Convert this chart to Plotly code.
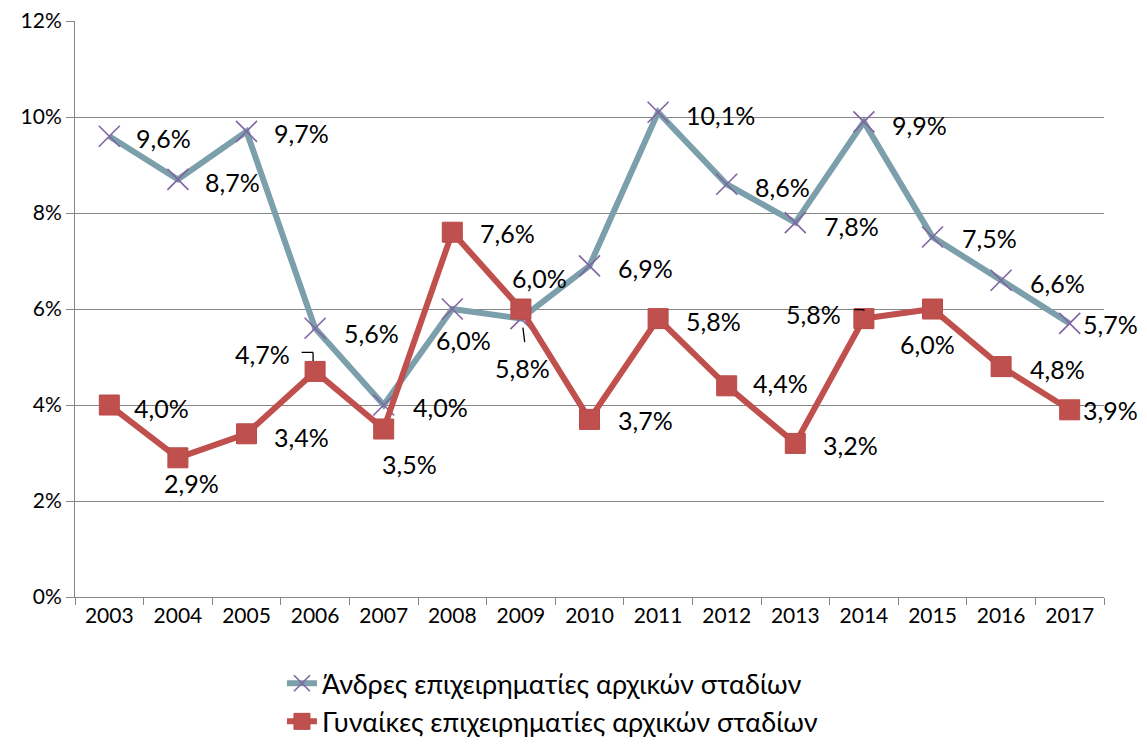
import plotly.graph_objects as go

years = ["2003", "2004", "2005", "2006", "2007", "2008", "2009", "2010",
         "2011", "2012", "2013", "2014", "2015", "2016", "2017"]
men = [9.6, 8.7, 9.7, 5.6, 4.0, 6.0, 5.8, 6.9, 10.1, 8.6, 7.8, 9.9, 7.5, 6.6, 5.7]
women = [4.0, 2.9, 3.4, 4.7, 3.5, 7.6, 6.0, 3.7, 5.8, 4.4, 3.2, 5.8, 6.0, 4.8, 3.9]
men_name = "Άνδρες επιχειρηματίες αρχικών σταδίων"
women_name = "Γυναίκες επιχειρηματίες αρχικών σταδίων"
y_ticks = [0, 2, 4, 6, 8, 10, 12]

# label placement styling: (xanchor, xshift px, yshift px)
men_lab = [("left", 25, -2), ("left", 25, -3), ("left", 25, -2), ("left", 27, -5),
           ("left", 27, -2), ("center", 11, -31), ("center", 2, -49), ("left", 26, -2),
           ("left", 26, -3), ("left", 26, -3), ("left", 27, -3), ("left", 26, -3),
           ("left", 27, -1), ("left", 27, -3), ("left", 11, -1)]
women_lab = [("left", 23, -3), ("center", 14, -25), ("left", 25, -3), ("right", -23, 17),
             ("center", 26, -35), ("left", 26, -1), ("center", 19, 31), ("left", 26, -1),
             ("left", 26, -2), ("left", 24, 3), ("left", 26, -2), ("right", -21, 5),
             ("center", -5, -35), ("left", 27, -2), ("left", 11, 0)]

FONT = "Lato, 'Noto Sans', sans-serif"
men_y = [v / 100 for v in men]
women_y = [v / 100 for v in women]

fig = go.Figure()
fig.add_trace(go.Scatter(
    x=years, y=men_y, name=men_name, mode="lines+markers",
    line=dict(color="#7B9FAB", width=6),
    marker=dict(symbol="x-thin-open", size=21, color="#8064A2",
                line=dict(color="#8064A2", width=1.6)),
    legendgroup="m",
))
fig.add_trace(go.Scatter(
    x=years, y=women_y, name=women_name, mode="lines+markers",
    line=dict(color="#C0504D", width=6),
    marker=dict(symbol="square", size=20, color="#C0504D",
                line=dict(color="#B84A47", width=1)),
    legendgroup="w",
))

def fmt(v):
    return f"{v:.1f}".replace(".", ",") + "%"

# annotations on a category axis are positioned by category index
for i, (v, (xa, dx, dy)) in enumerate(zip(men, men_lab)):
    fig.add_annotation(x=i, y=v / 100, text=fmt(v), showarrow=False, xanchor=xa,
                       yanchor="middle", xshift=dx, yshift=dy,
                       font=dict(family=FONT, size=25, color="black"))
for i, (v, (xa, dx, dy)) in enumerate(zip(women, women_lab)):
    fig.add_annotation(x=i, y=v / 100, text=fmt(v), showarrow=False, xanchor=xa,
                       yanchor="middle", xshift=dx, yshift=dy,
                       font=dict(family=FONT, size=25, color="black"))

# leader lines (arrowless annotation arrows anchored to data points)
def leader(i, val, xs, ys, ax, ay):
    fig.add_annotation(x=i, y=val / 100, text="", showarrow=True, arrowhead=0,
                       arrowwidth=1.3, arrowcolor="black", xshift=xs, yshift=ys,
                       ax=ax, ay=ay, standoff=0, startstandoff=0)

i09, i06, i14 = years.index("2009"), years.index("2006"), years.index("2014")
leader(i09, men[i09], 2, -9, 2, 16)
leader(i06, women[i06], -2, 19, -13, 0)
leader(i06, women[i06], -2, 19, 0, 10)
leader(i14, women[i14], 0, 9, -11, 0)
leader(i14, women[i14], 0, 9, 0, 3)

fig.update_layout(
    width=1131, height=732,
    margin=dict(l=67, r=35, t=13, b=143, autoexpand=False),
    paper_bgcolor="white", plot_bgcolor="white",
    font=dict(family=FONT, color="black"),
    showlegend=True,
    legend=dict(orientation="v", x=0.464, xanchor="center",
                y=-0.108, yanchor="top",
                font=dict(family=FONT, size=27, color="black"),
                tracegroupgap=0, bgcolor="rgba(0,0,0,0)"),
    hovermode=False,
    xaxis=dict(type="category", range=[-0.5, 14.5], showgrid=False, showline=True,
               linecolor="#868686", linewidth=1, ticks="outside", tickson="boundaries",
               ticklen=7, tickcolor="#868686", tickangle=0,
               tickfont=dict(family=FONT, size=21, color="black")),
    yaxis=dict(range=[0, 0.12001], tickmode="array",
               tickvals=[t / 100 for t in y_ticks],
               ticktext=[f"{t}%" for t in y_ticks], showgrid=True,
               gridcolor="#868686", gridwidth=1, showline=True, linecolor="#868686",
               linewidth=1, ticks="outside", ticklen=8, tickcolor="#868686",
               ticklabeloverflow="allow",
               tickfont=dict(family=FONT, size=21, color="black"), zeroline=False),
)

fig.write_html("out.html")
